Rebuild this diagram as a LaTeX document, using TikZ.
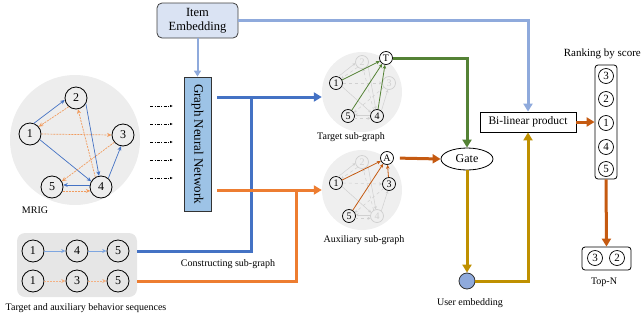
\documentclass[tikz,border=0pt]{standalone}
\usepackage{fontspec}
\setmainfont{Liberation Serif}
\usetikzlibrary{arrows.meta,shapes.geometric}
\definecolor{cBlue}{HTML}{4472C4}
\definecolor{cLBlue}{HTML}{8FAADC}
\definecolor{cOrange}{HTML}{ED7D31}
\definecolor{cDOrange}{HTML}{C55A11}
\definecolor{cGreen}{HTML}{548235}
\definecolor{cGold}{HTML}{BF9000}
\definecolor{cEdgeBlue}{HTML}{4472C4}
\definecolor{cEdgeOr}{HTML}{F19C5F}
\definecolor{cSeqBlue}{HTML}{7EA6E0}
\definecolor{cSeqOr}{HTML}{F4B183}
\definecolor{cFade}{HTML}{D0D0D0}
\definecolor{cBg}{HTML}{EDEDED}
\definecolor{cSubBg}{HTML}{EFEFEF}
\definecolor{cSeqBg}{HTML}{E6E6E6}
\definecolor{cIE}{HTML}{DAE3F3}
\definecolor{cGNN}{HTML}{9DC3E6}
\newcommand\fadedges[1]{%
  \draw[ef] (#11.70) -- (#12.190);
  \draw[ef,dashed] (#12.230) -- (#11.40);
  \draw[ef] (#12.-30) -- (#14.100);
  \draw[ef,dashed] (#14.120) -- (#12.-80);
  \draw[ef,dashed] (#11.0) -- (#13.180);
  \draw[ef] (#11.-30) -- (#14.150);
  \draw[ef,dashed] (#13.220) -- (#15.30);
  \draw[ef] (#14.50) -- (#13.-100);
  \draw[ef] (#14.170) -- (#15.10);
  \draw[ef,dashed] (#15.-20) -- (#14.-160);
}
\tikzset{
  big/.style={circle,draw=black,line width=0.8pt,inner sep=0pt,minimum size=22pt,font=\fontsize{12}{12}\selectfont},
  sm/.style={circle,draw=black,line width=0.7pt,inner sep=0pt,minimum size=13pt,font=\fontsize{10}{10}\selectfont},
  fd/.style={sm,draw=cFade,text=cFade},
  rk/.style={circle,draw=black,line width=0.7pt,inner sep=0pt,minimum size=15pt,font=\fontsize{11}{11}\selectfont},
  eb/.style={cEdgeBlue,line width=0.7pt,-{Stealth[length=4.5pt,width=4pt]}},
  eo/.style={cEdgeOr,line width=0.7pt,dash pattern=on 2pt off 1pt,-{Stealth[length=4.5pt,width=4pt]}},
  ef/.style={cFade,line width=0.5pt,-{Stealth[length=3pt,width=3pt]}},
  eg/.style={cGreen,line width=0.8pt,-{Stealth[length=4pt,width=3.5pt]}},
  ea/.style={cDOrange,line width=0.8pt,-{Stealth[length=4pt,width=3.5pt]}},
  thickline/.style={line width=3pt},
  bigtip/.style={-{Triangle[length=8pt,width=9pt]}},
  captxt/.style={font=\fontsize{10}{10}\selectfont,inner sep=0pt},
  dd/.style={black,line width=0.6pt,dash pattern=on 3pt off 1.5pt on 0.8pt off 1.5pt,-{Latex[length=3pt,width=2.5pt]}},
}
\begin{document}
\begin{tikzpicture}[x=1pt,y=-1pt]
\useasboundingbox (0,0) rectangle (643,322);
% backgrounds
\node[circle,fill=cBg,minimum size=130pt,inner sep=0pt] (mrig) at (75,140) {};
\node[circle,fill=cSubBg,minimum size=80pt,inner sep=0pt] (tsg) at (362,92) {};
\node[circle,fill=cSubBg,minimum size=80pt,inner sep=0pt] (asg) at (362,190) {};
\node[rectangle,rounded corners=8pt,fill=cSeqBg,minimum width=120pt,minimum height=64pt] (seq) at (77,265) {};
% MRIG
\node[big] (n2) at (76,98) {2};
\node[big] (n1) at (30,134) {1};
\node[big] (n3) at (123,135) {3};
\node[big] (n5) at (52,187) {5};
\node[big] (n4) at (101,187) {4};
\draw[eb] (n1.70) -- (n2.190);
\draw[eo] (n2.230) -- (n1.40);
\draw[eb] (n2.-30) -- (n4.100);
\draw[eo] (n4.120) -- (n2.-80);
\draw[eo] (n1.0) -- (n3.180);
\draw[eb] (n1.-30) -- (n4.150);
\draw[eo] (n3.220) -- (n5.30);
\draw[eb] (n4.50) -- (n3.-100);
\draw[eb] (n4.170) -- (n5.10);
\draw[eo] (n5.-20) -- (n4.-160);
\node[captxt] (mriglab) at (35,210) {MRIG};
% dash-dot arrows
\foreach \i/\y in {1/106,2/124,3/142,4/160,5/178}{
  \coordinate (da\i) at (150,\y);
  \coordinate (db\i) at (173,\y);
  \draw[dd] (da\i) -- (db\i);
}
% Item embedding and GNN
\node[rectangle,rounded corners=5pt,draw=black!75,line width=0.8pt,fill=cIE,minimum width=81pt,minimum height=35pt,align=center,inner sep=0pt,font=\fontsize{12.5}{14}\selectfont] (ie) at (197.5,20.5) {Item\\Embedding};
\node[rectangle,draw=black!80,line width=0.8pt,fill=cGNN,minimum width=134pt,minimum height=27pt,rotate=-90,inner sep=0pt,font=\fontsize{13}{13}\selectfont] (gnn) at (197.5,144) {Graph Neural Network};
\draw[cLBlue,line width=2pt,-{Triangle[length=6pt,width=7pt]}] (ie.south) -- (gnn.west);
% sequences
\node[big] (s1) at (33,251) {1};
\node[big] (s4) at (77,251) {4};
\node[big] (s5) at (118,251) {5};
\node[big] (q1) at (33,281) {1};
\node[big] (q3) at (77,281) {3};
\node[big] (q5) at (118,281) {5};
\draw[cSeqBlue,line width=0.8pt,-{Stealth[length=4.5pt,width=4pt]}] (s1) -- (s4);
\draw[cSeqBlue,line width=0.8pt,-{Stealth[length=4.5pt,width=4pt]}] (s4) -- (s5);
\draw[cSeqOr,line width=0.8pt,dash pattern=on 2pt off 1pt,-{Stealth[length=4.5pt,width=4pt]}] (q1) -- (q3);
\draw[cSeqOr,line width=0.8pt,dash pattern=on 2pt off 1pt,-{Stealth[length=4.5pt,width=4pt]}] (q3) -- (q5);
\node[captxt] (seqlab) at (86,308) {Target and auxiliary behavior sequences};
% target sub-graph
\node[fd] (t2) at (362,62) {2};
\node[sm] (t1) at (336,83) {1};
\node[fd] (t3) at (389,83) {3};
\node[sm] (t5) at (348,116) {5};
\node[sm] (t4) at (377,116) {4};
\fadedges{t}
\node[sm,fill=white] (tT) at (386,58) {T};
\draw[eg] (t1) -- (tT);
\draw[eg] (t5) -- (tT);
\draw[eg] (t4) -- (tT);
\node[captxt] (tlab) at (351,137) {Target sub-graph};
% auxiliary sub-graph
\node[fd] (a2) at (362,162) {2};
\node[sm] (a1) at (336,183) {1};
\node[sm] (a3) at (389,184) {3};
\node[sm] (a5) at (349,216) {5};
\node[fd] (a4) at (377,216) {4};
\fadedges{a}
\node[sm,fill=white] (aA) at (387,158) {A};
\draw[ea] (a1) -- (aA);
\draw[ea] (a5) -- (aA);
\draw[ea] (a3) -- (aA);
\node[captxt] (alab) at (364,240) {Auxiliary sub-graph};
% connectors from GNN
\coordinate (gbo) at (217,97);
\coordinate (goo) at (217,190);
\coordinate (jb) at (251,97);
\coordinate (jo) at (296,190);
\draw[thickline,cBlue,bigtip] (gbo) -- (gbo -| tsg.west);
\draw[thickline,cBlue] (seq.east |- s5) -| (jb);
\draw[thickline,cOrange,bigtip] (goo) -- (asg.west);
\draw[thickline,cOrange] (seq.east |- q5) -| (jo);
\node[captxt] (clab) at (228,264) {Constructing sub-graph};
% gate, user embedding, bilinear
\node[ellipse,draw=black,line width=0.8pt,fill=white,minimum width=52pt,minimum height=22pt,inner sep=0pt,font=\fontsize{12}{12}\selectfont] (gate) at (467,159) {Gate};
\node[circle,draw=black!80,line width=0.8pt,fill=cLBlue,minimum size=16pt,inner sep=0pt] (ue) at (467,281) {};
\node[captxt] (uelab) at (470,303) {User embedding};
\node[rectangle,draw=black,line width=0.8pt,fill=white,minimum width=96pt,minimum height=20pt,inner sep=0pt,font=\fontsize{11.5}{11.5}\selectfont] (bl) at (528,122) {Bi-linear product};
\draw[thickline,cLBlue,bigtip] (ie.east) -| (bl.north);
\draw[thickline,cGreen,bigtip] (tT.east) -| (gate.north);
\draw[thickline,cDOrange,bigtip,shorten <=6pt] (aA.east) -- (gate.west);
\draw[thickline,cGold,bigtip] (gate.south) -- (ue.north);
\draw[thickline,cGold,bigtip] (ue.east) -| (bl.south);
% ranking
\node[rectangle,rounded corners=3pt,draw=black,line width=0.8pt,minimum width=22pt,minimum height=114pt,inner sep=0pt] (rank) at (606,122) {};
\node[rk] (k3) at (606,76) {3};
\node[rk] (k2) at (606,99) {2};
\node[rk] (k1) at (606,123) {1};
\node[rk] (k4) at (606,147) {4};
\node[rk] (k5) at (606,169) {5};
\node[captxt,anchor=east,font=\fontsize{11}{11}\selectfont] (rlab) at (641,54) {Ranking by score};
\draw[thickline,cDOrange,bigtip] (bl.east) -- (rank.west);
\node[rectangle,rounded corners=3pt,draw=black,line width=0.8pt,minimum width=49pt,minimum height=23pt,inner sep=0pt] (topn) at (606.5,258.5) {};
\node[rk] (m3) at (595,258) {3};
\node[rk] (m2) at (617,258) {2};
\draw[thickline,cDOrange,bigtip] (rank.south) -- (topn.north);
\node[captxt] (tnlab) at (604,282) {Top-N};
\end{tikzpicture}
\end{document}
